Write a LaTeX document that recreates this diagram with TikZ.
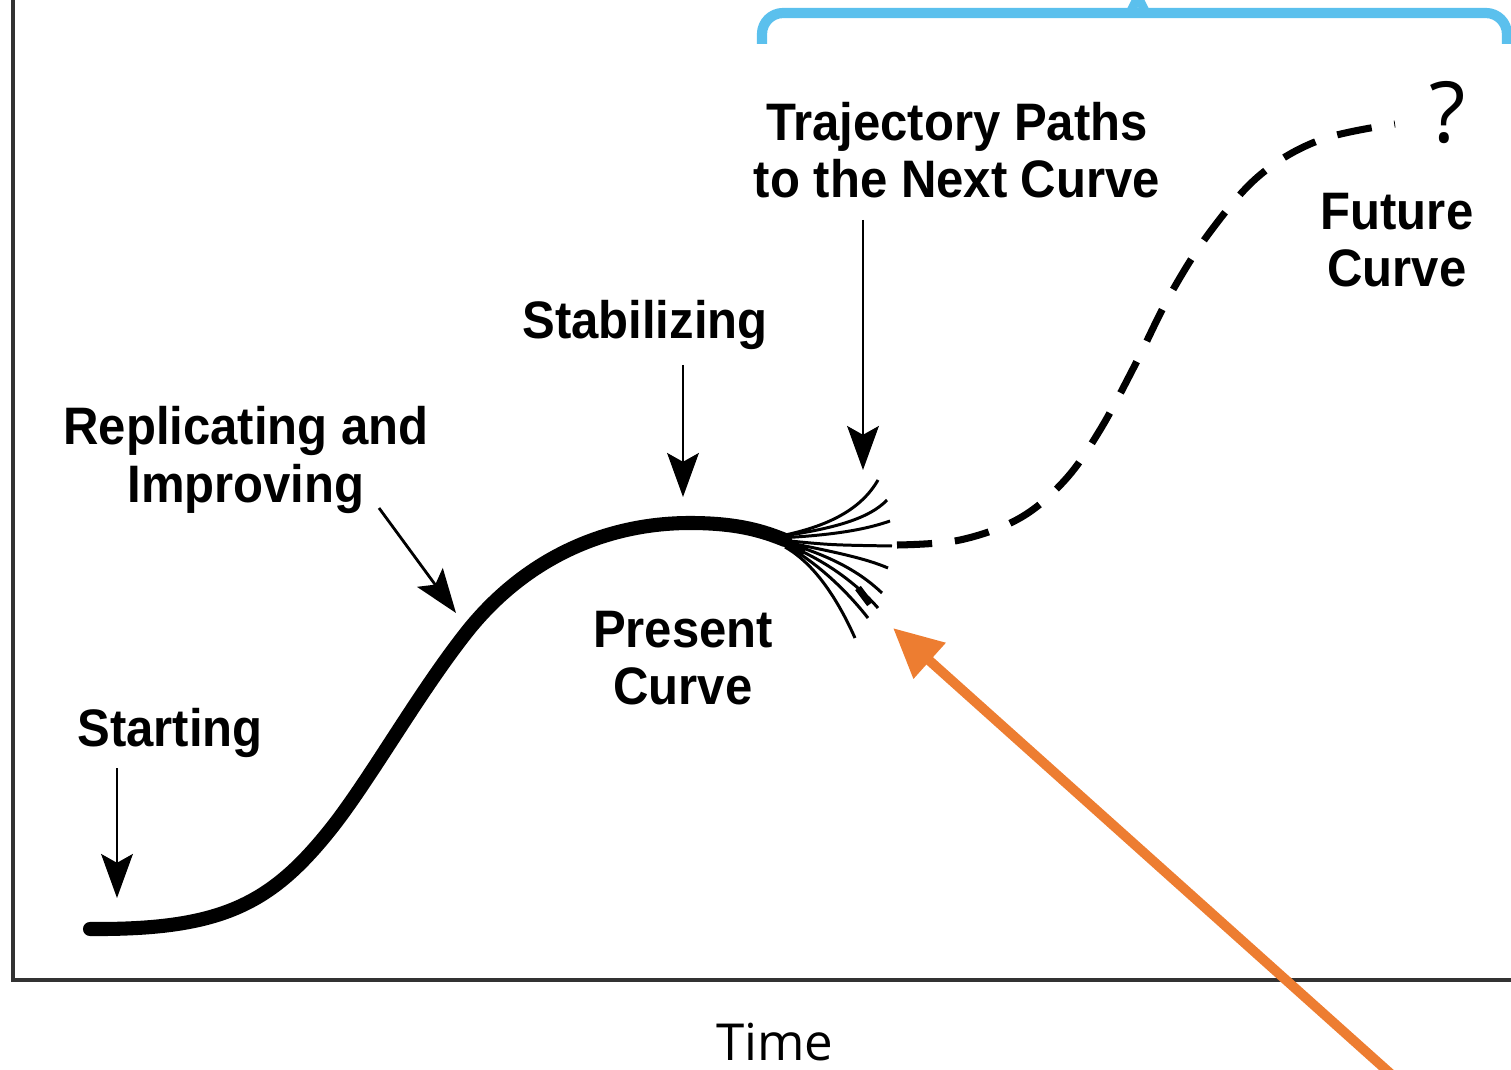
\documentclass[tikz,border=0pt]{standalone}
\usepackage{fontspec}
\setmainfont{Liberation Sans}
\newfontfamily\lblfont{Liberation Sans Bold}[FakeStretch=0.93]
\newfontfamily\osfont{Open Sans}
\usetikzlibrary{arrows.meta}
\definecolor{bracketblue}{RGB}{91,192,237}
\definecolor{arroworange}{RGB}{237,125,49}
\definecolor{axisgray}{RGB}{50,50,50}
\tikzset{
  lbl/.style={font=\lblfont\fontsize{15}{16.4}\selectfont, align=center, inner sep=0pt},
  arr/.style={line width=0.8pt, -{Stealth[length=12.5pt, width=9pt, inset=2.5pt]}},
  fan/.style={line width=0.85pt},
}
\begin{document}
\begin{tikzpicture}[x=0.01cm, y=-0.01cm]
\useasboundingbox (0,0) rectangle (1511,1070);
% axes
\draw[axisgray, line width=0.9pt] (13,0) -- (13,980) -- (1511,980);
% bracket
\draw[bracketblue, line width=2.9pt, rounded corners=6pt] (762,44) -- (762,13) -- (1507,13) -- (1507,44);
\draw[bracketblue, line width=2.6pt] (1130,13) -- (1136,1) -- (1140,1) -- (1146,13);
% main curve
\coordinate (m0) at (90,929);
\coordinate (m1) at (330,830);
\coordinate (m2) at (470,628);
\coordinate (m3) at (690,523);
\coordinate (m4) at (785,540);
\draw[line width=4pt, line cap=round] (m0) .. controls (220,930) and (270,905) .. (m1)
  .. controls (370,780) and (420,690) .. (m2)
  .. controls (530,555) and (610,523) .. (m3)
  .. controls (740,523) and (765,532) .. (m4);
\draw[line width=2.4pt] (770,535) -- (805,551);
% fan
\draw[fan] (775,537) .. controls (830,527) and (862,508) .. (878,480);
\draw[fan] (775,537) .. controls (835,529) and (870,518) .. (887,500);
\draw[fan] (778,538) .. controls (840,535) and (870,528) .. (890,521);
\draw[fan] (780,540) .. controls (830,545) .. (892,546);
\draw[fan] (780,541) .. controls (830,551) and (865,558) .. (888,568);
\draw[fan] (780,541) .. controls (830,555) and (860,572) .. (882,593);
\draw[fan] (782,543) .. controls (825,559) and (858,585) .. (878,608);
\draw[fan] (785,545) .. controls (820,564) and (850,595) .. (868,618);
\draw[fan] (785,547) .. controls (815,564) and (838,600) .. (855,638);
\draw[line width=2pt] (858,588) -- (870,604);
% dashed future curve
\draw[line width=2pt, dash pattern=on 10pt off 6.5pt] plot[smooth, tension=0.6] coordinates {(897,545) (960,540) (1020,518) (1065,480) (1100,430) (1135,365) (1170,295) (1210,232) (1260,175) (1320,140) (1395,124)};
% labels
\node[lbl] (traj) at (957,150) {Trajectory Paths\\to the Next Curve};
\node[lbl] (stab) at (645,325) {Stabilizing};
\node[lbl] (repl) at (246,460) {Replicating and\\Improving};
\node[lbl] (start) at (170,733) {Starting};
\node[lbl] (pres) at (683,658) {Present\\Curve};
\node[lbl] (fut) at (1397,240) {Future\\Curve};
\node[font=\osfont\fontsize{24}{24}\selectfont, inner sep=0pt] (q) at (1448,113) {?};
\node[font=\osfont\fontsize{14.5}{16}\selectfont, inner sep=0pt] (time) at (775,1042) {Time};
% arrow end points
\coordinate (a1s) at (117,768);
\coordinate (a1e) at (117,898);
\coordinate (a2s) at (379,508);
\coordinate (a2e) at (456,613);
\coordinate (a3s) at (683,365);
\coordinate (a3e) at (683,497);
\coordinate (a4s) at (863,220);
\coordinate (a4e) at (863,470);
\coordinate (o1s) at (1392,1075);
\coordinate (o1e) at (893,628);
\draw[arr] (a1s) -- (a1e);
\draw[arr] (a2s) -- (a2e);
\draw[arr] (a3s) -- (a3e);
\draw[arr] (a4s) -- (a4e);
\draw[arroworange, line width=2.8pt, -{Triangle[length=14pt, width=13pt]}] (o1s) -- (o1e);
\end{tikzpicture}
\end{document}
